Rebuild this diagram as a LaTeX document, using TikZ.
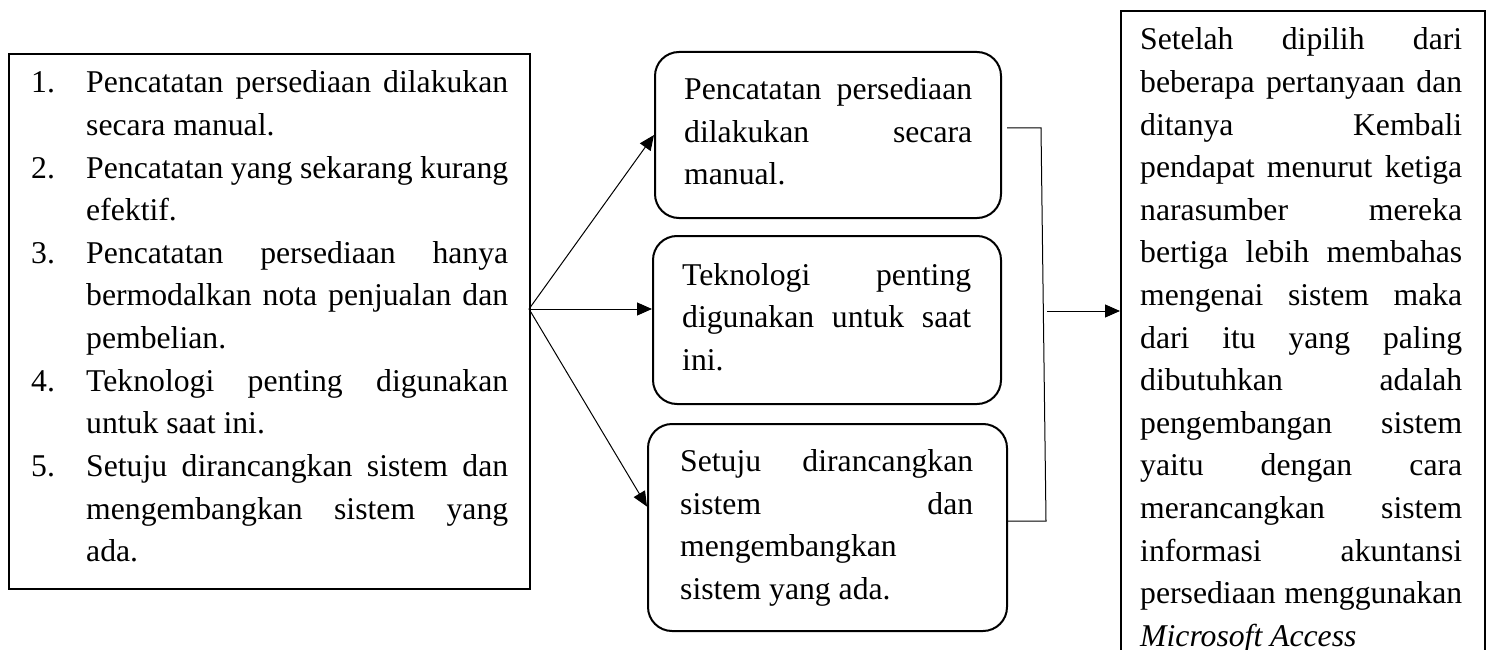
\documentclass[tikz,border=0pt]{standalone}
\usepackage{fontspec}
\setmainfont{Liberation Serif}
\usetikzlibrary{arrows.meta,calc}
\newcommand\fz{\fontsize{31.7pt}{42.6pt}\selectfont}
\newcommand\jl[1]{\hbox to \linewidth{#1}}
\newcommand\lastln[1]{\hbox{#1}}
\newcommand\numjl[2]{\hbox to \linewidth{\hbox to 55pt{#1\hfil}#2}}
\newcommand\indjl[1]{\hbox to \linewidth{\hskip 55pt\relax #1}}
\newcommand\indln[1]{\hbox{\hskip 55pt\relax #1}}
\begin{document}
\begin{tikzpicture}[x=1pt,y=-1pt,
  sqbox/.style={draw, line width=2pt, rectangle, anchor=north west, inner sep=0pt},
  rbox/.style={sqbox, rounded corners=24pt},
  txt/.style={anchor=base west, inner sep=0pt, font=\fz},
  conn/.style={draw, line width=1pt},
  arrowline/.style={conn, -{Triangle[length=15pt,width=13pt]}}]
\useasboundingbox (0,0) rectangle (1490,650);
\clip (0,0) rectangle (1490,650);
% boxes
\node[sqbox, minimum width=521pt, minimum height=535pt] (L) at (8,53) {};
\node[rbox, minimum width=346pt, minimum height=166pt] (b1) at (654,51) {};
\node[rbox, minimum width=348pt, minimum height=168pt] (b2) at (652,235) {};
\node[rbox, minimum width=359pt, minimum height=207pt] (b3) at (647,423) {};
\node[sqbox, minimum width=364pt, minimum height=700pt] (R) at (1120,10) {};
% texts
\node[txt] (t0) at (31,93) {\parbox[t]{477pt}{%
\numjl{1.}{Pencatatan persediaan dilakukan}%
\indln{secara manual.}%
\numjl{2.}{Pencatatan yang sekarang kurang}%
\indln{efektif.}%
\numjl{3.}{Pencatatan persediaan hanya}%
\indjl{bermodalkan nota penjualan dan}%
\indln{pembelian.}%
\numjl{4.}{Teknologi penting digunakan}%
\indln{untuk saat ini.}%
\numjl{5.}{Setuju dirancangkan sistem dan}%
\indjl{mengembangkan sistem yang}%
\indln{ada.}}};
\node[txt] (t1) at (684,99.6) {\parbox[t]{288pt}{%
\jl{Pencatatan persediaan}%
\jl{dilakukan secara}%
\lastln{manual.}}};
\node[txt] (t2) at (682,285) {\parbox[t]{289pt}{%
\jl{Teknologi penting}%
\jl{digunakan untuk saat}%
\lastln{ini.}}};
\node[txt] (t3) at (680,471.5) {\parbox[t]{293pt}{%
\jl{Setuju dirancangkan}%
\jl{sistem dan}%
\lastln{mengembangkan}%
\lastln{sistem yang ada.}}};
\node[txt] (t4) at (1140,50) {\parbox[t]{322pt}{%
\jl{Setelah dipilih dari}%
\jl{beberapa pertanyaan dan}%
\jl{ditanya Kembali}%
\jl{pendapat menurut ketiga}%
\jl{narasumber mereka}%
\jl{bertiga lebih membahas}%
\jl{mengenai sistem maka}%
\jl{dari itu yang paling}%
\jl{dibutuhkan adalah}%
\jl{pengembangan sistem}%
\jl{yaitu dengan cara}%
\jl{merancangkan sistem}%
\jl{informasi akuntansi}%
\jl{persediaan menggunakan}%
\lastln{\textit{Microsoft Access}}}};
% connectors
\coordinate (fan) at (529,309);
\coordinate (j1) at (1041,128);
\coordinate (j2) at (1046,521);
\coordinate (jm) at (1047,311);
\draw[arrowline] (fan) -- (b1.west);
\draw[arrowline] (fan) -- (fan -| b2.west);
\draw[arrowline] (fan) -- ($(b3.north west)!0.4!(b3.south west)$);
\draw[conn] ([xshift=5pt]b1.east |- j1) -- (j1) -- (j2) -- (b3.east |- j2);
\draw[arrowline] (jm) -- (R.west |- jm);
\end{tikzpicture}
\end{document}
